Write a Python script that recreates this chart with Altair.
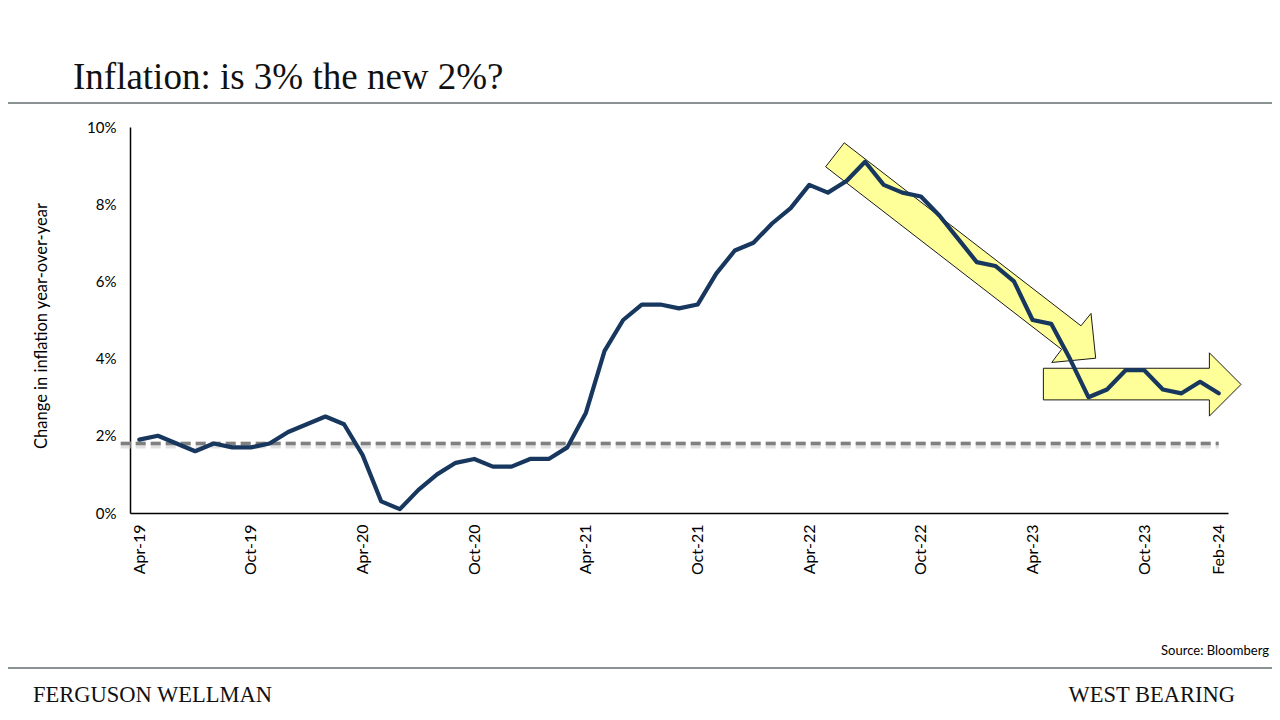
import json
import altair as alt
import pandas as pd

# ---------------- data ----------------
cpi_yoy = [1.9, 2.0, 1.8, 1.6, 1.8, 1.7, 1.7, 1.8, 2.1, 2.3,
           2.5, 2.3, 1.5, 0.3, 0.1, 0.6, 1.0, 1.3, 1.4, 1.2,
           1.2, 1.4, 1.4, 1.7, 2.6, 4.2, 5.0, 5.4, 5.4, 5.3,
           5.4, 6.2, 6.8, 7.0, 7.5, 7.9, 8.5, 8.3, 8.6, 9.1,
           8.5, 8.3, 8.2, 7.7, 7.1, 6.5, 6.4, 6.0, 5.0, 4.9,
           4.0, 3.0, 3.2, 3.7, 3.7, 3.2, 3.1, 3.4, 3.1]
month_idx = list(range(len(cpi_yoy)))

tick_pos = [0, 6, 12, 18, 24, 30, 36, 42, 48, 54, 58]
tick_labels = ["Apr-19", "Oct-19", "Apr-20", "Oct-20", "Apr-21", "Oct-21",
               "Apr-22", "Oct-22", "Apr-23", "Oct-23", "Feb-24"]
y_ticks = [0, 2, 4, 6, 8, 10]

ref_level = 1.8
ref_x = [-1, 58]

# arrow annotations (vertices in data units: month index, percent)
down_arrow = [(37.88, 9.59), (50.60, 4.85), (51.14, 5.17), (51.39, 4.01),
              (49.03, 3.90), (49.56, 4.24), (36.88, 8.97)]
flat_arrow = [(48.58, 3.75), (57.50, 3.75), (57.50, 4.15), (59.20, 3.33),
              (57.50, 2.51), (57.50, 2.93), (48.58, 2.93)]

NAVY = "#17375E"
ARROW_FILL = "#FFFF99"
RULE_GRAY = "#8A9294"

# ---------------- helpers ----------------
def vertical_span(verts, x):
    ys = []
    n = len(verts)
    for i in range(n):
        (x1, y1), (x2, y2) = verts[i], verts[(i + 1) % n]
        if abs(x1 - x2) < 1e-9:
            if abs(x - x1) < 1e-9:
                ys += [y1, y2]
        elif min(x1, x2) - 1e-9 <= x <= max(x1, x2) + 1e-9:
            t = (x - x1) / (x2 - x1)
            ys.append(y1 + t * (y2 - y1))
    return min(ys), max(ys)


def convex_rows(verts, piece):
    rows = []
    for x in sorted(set(v[0] for v in verts)):
        lo, hi = vertical_span(verts, x)
        rows.append({"x": x, "lo": lo, "hi": hi, "piece": piece})
    return rows


def extend(p, q, f):
    return (q[0] + (q[0] - p[0]) * f, q[1] + (q[1] - p[1]) * f)

A, B, C, D, E, F, G = down_arrow
shaft = [A, extend(A, B, 0.02), extend(G, F, 0.02), G]
head = [C, D, E]
H1, H2, H3, H4, H5, H6, H7 = flat_arrow
body = [H1, (H2[0] + 0.3, H2[1]), (H6[0] + 0.3, H6[1]), H7]
head2 = [H3, H4, H5]

fill_rows = (convex_rows(shaft, "shaft") + convex_rows(head, "head") +
             convex_rows(body, "body") + convex_rows(head2, "head2"))
fill_df = pd.DataFrame(fill_rows)

outline_rows = []
for name, verts in [("down", down_arrow), ("flat", flat_arrow)]:
    for k, (x, y) in enumerate(verts + [verts[0]]):
        outline_rows.append({"x": x, "y": y, "k": k, "shape": name})
outline_df = pd.DataFrame(outline_rows)

line_df = pd.DataFrame({"idx": month_idx, "value": cpi_yoy})
ref_df = pd.DataFrame({"idx": ref_x, "value": [ref_level, ref_level]})

xscale = alt.Scale(domain=[-0.5, 58.5], nice=False, zero=False)
yscale = alt.Scale(domain=[0, 10], nice=False)

label_expr = f"{json.dumps(tick_labels)}[indexof({json.dumps(tick_pos)}, datum.value)]"

x_axis = alt.Axis(values=tick_pos, labelExpr=label_expr, labelAngle=270,
                  labelFont="Lato", labelFontSize=16, labelColor="black",
                  labelPadding=11, ticks=False, grid=False, domainColor="black",
                  domainWidth=1.5, title=None, labelOverlap=False, labelFlush=False)
y_axis = alt.Axis(values=y_ticks, labelExpr="datum.value + '%'", ticks=False,
                  grid=False, domainColor="black", domainWidth=1.5,
                  labelFont="Lato", labelFontSize=15, labelColor="black",
                  labelPadding=14, title=None)


def X(field):
    return alt.X(field, scale=xscale, axis=x_axis)


def Y(field):
    return alt.Y(field, scale=yscale, axis=y_axis)

# ---------------- layers ----------------
ref_shadow = alt.Chart(ref_df).mark_line(
    color="#d4d4d4", strokeWidth=7, strokeDash=[10, 5], yOffset=1.5, opacity=0.7
).encode(x=X("idx:Q"), y=Y("value:Q"))

ref_line = alt.Chart(ref_df).mark_line(
    color="#808080", strokeWidth=3.5, strokeDash=[10, 5]
).encode(x=X("idx:Q"), y=Y("value:Q"))

arrow_fill = alt.Chart(fill_df).mark_area(color=ARROW_FILL, opacity=1).encode(
    x=X("x:Q"), y=Y("lo:Q"), y2="hi:Q", detail="piece:N",
)

arrow_outline = alt.Chart(outline_df).mark_line(color="#1a1a1a", strokeWidth=1).encode(
    x=X("x:Q"), y=Y("y:Q"), order="k:Q", detail="shape:N",
)

main_line = alt.Chart(line_df).mark_line(
    color=NAVY, strokeWidth=4.2, strokeJoin="round", strokeCap="round"
).encode(x=X("idx:Q"), y=Y("value:Q"))


def text_layer(text, x, y, **kw):
    return alt.Chart(pd.DataFrame({"t": [text]})).mark_text(**kw).encode(
        text="t:N", x=alt.value(x), y=alt.value(y))


def rule_layer(y):
    return alt.Chart(pd.DataFrame({"r": [0]})).mark_rule(
        color=RULE_GRAY, strokeWidth=2).encode(
        x=alt.value(-122), x2=alt.value(1142), y=alt.value(y))


serif = "Liberation Serif"
ink = "#111111"
title = text_layer("Inflation: is 3% the new 2%?", -57, -38, font=serif,
                   fontSize=37, align="left", baseline="alphabetic", color=ink)
ytitle = text_layer("Change in inflation year-over-year", -88, 199, font="Lato",
                    fontSize=16.5, angle=270, align="center", baseline="middle",
                    color="black")
source = text_layer("Source: Bloomberg", 1139, 528, font="Lato", fontSize=13,
                    align="right", baseline="alphabetic", color="black")

fy = 575
footer_left = text_layer("FERGUSON WELLMAN", -97, fy, font=serif, fontSize=22.5,
                         align="left", baseline="alphabetic", color=ink)
footer_right = text_layer("WEST BEARING", 1105, fy, font=serif, fontSize=22.5,
                          align="right", baseline="alphabetic", color=ink)

chart = alt.layer(
    ref_shadow, ref_line, arrow_fill, arrow_outline, main_line,
    title, ytitle, source, rule_layer(-24), rule_layer(541),
    footer_left, footer_right
).properties(
    width=1098, height=386,
    autosize=alt.AutoSizeParams(type="none"),
    padding={"left": 122, "top": 119, "right": 44, "bottom": 199},
    background="white",
).configure_view(stroke=None)

chart.save("out.html", embed_options={"renderer": "svg", "actions": False})
